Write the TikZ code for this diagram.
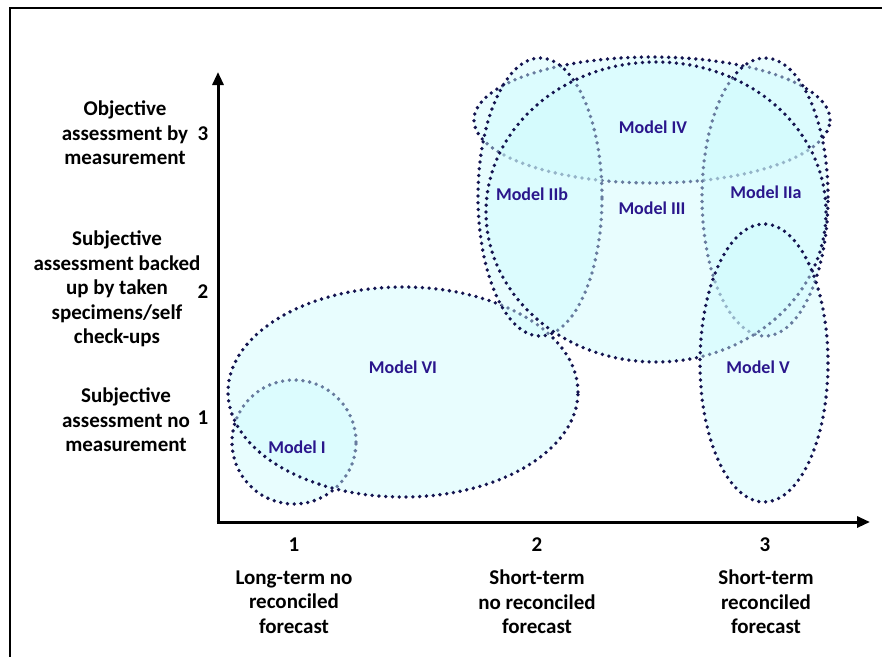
\documentclass[tikz,border=0pt]{standalone}
\usepackage{fontspec}
\setmainfont{Carlito}
\usepackage{tikz}
\usetikzlibrary{arrows.meta}
\usetikzlibrary{positioning}

\definecolor{dotcol}{RGB}{20,20,80}
\definecolor{blobfill}{RGB}{205,250,253}
\definecolor{modelcol}{RGB}{42,22,140}

\tikzset{
  blob/.style={draw=dotcol, line width=3.8pt, dash pattern=on 0pt off 6.8pt,
    line cap=round, fill=blobfill, fill opacity=0.45},
  modeltext/.style={text=modelcol, font=\fontsize{18}{20}\selectfont\bfseries},
  axistext/.style={font=\fontsize{21}{24.5}\selectfont\bfseries, align=center},
  ticktext/.style={font=\fontsize{21}{24}\selectfont\bfseries}
}

\begin{document}
\begin{tikzpicture}[x=1pt,y=-1pt]
        \useasboundingbox (0,0) rectangle (882,656);

        % frame
        \draw[line width=2.6pt] (10,660) -- (10,8) -- (886,8);

        % ellipses, lowest first
        \path[blob] (294,442) ellipse [x radius=62pt, y radius=62pt];
        \path[blob] (403,392) ellipse [x radius=175pt, y radius=105pt];
        \path[blob] (652,120) ellipse [x radius=178pt, y radius=63pt];
        \path[blob] (540,197) ellipse [x radius=62pt, y radius=139pt];
        \path[blob] (765,197) ellipse [x radius=63pt, y radius=139pt];
        \path[blob] (656,212) ellipse [x radius=170pt, y radius=150pt];
        \path[blob] (764,363) ellipse [x radius=64pt, y radius=139pt];

        % axes
        \coordinate (origin) at (218,522);
        \coordinate (ytop) at (218,72);
        \coordinate (xend) at (870,522);
        \draw[line width=3pt,-{Triangle[length=13pt,width=11pt]}] ([yshift=-1.5pt]origin) -- (ytop);
        \draw[line width=3pt,-{Triangle[length=13pt,width=11pt]}] ([xshift=-1.5pt]origin) -- (xend);

        % model labels
        \node[modeltext] (m4) at (653,127) {Model IV};
        \node[modeltext] (m2b) at (532,194) {Model IIb};
        \node[modeltext] (m3) at (652,208) {Model III};
        \node[modeltext] (m2a) at (766,192) {Model IIa};
        \node[modeltext] (m6) at (403,367) {Model VI};
        \node[modeltext] (m5) at (758,367) {Model V};
        \node[modeltext] (m1) at (297,447) {Model I};

        % y ticks and labels
        \node[ticktext] (y3) at (203,134) {3};
        \node[ticktext] (y2) at (203,292) {2};
        \node[ticktext] (y1) at (203,418) {1};
        \node[axistext] (ylab3) at (125,133) {Objective\\assessment by\\measurement};
        \node[axistext] (ylab2) at (117,289) {Subjective\\assessment backed\\up by taken\\specimens/self\\check-ups};
        \node[axistext] (ylab1) at (126,420) {Subjective\\assessment no\\measurement};

        % x ticks and labels
        \node[ticktext] (x1) at (294,545) {1};
        \node[ticktext] (x2) at (537,545) {2};
        \node[ticktext] (x3) at (765,545) {3};
        \node[axistext] (xlab1) at (294,602) {Long-term no\\reconciled\\forecast};
        \node[axistext] (xlab2) at (537,602) {Short-term\\no reconciled\\forecast};
        \node[axistext] (xlab3) at (766,602) {Short-term\\reconciled\\forecast};
      \end{tikzpicture}
\end{document}
